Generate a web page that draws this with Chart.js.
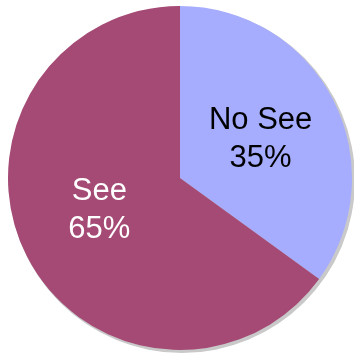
<!DOCTYPE html>
<html>
<head>
<meta charset="utf-8">
<script src="https://cdn.jsdelivr.net/npm/chart.js@4/dist/chart.umd.min.js"></script>
<style>
  html, body { margin: 0; padding: 0; background: #ffffff; }
  #wrap { width: 354px; height: 354px; }
</style>
</head>
<body>
<div id="wrap"><canvas id="pie" width="354" height="354"></canvas></div>
<script>
// Share of respondents
const categories = ["No See", "See"];
const shares = [35, 65];
const sliceColors = ["#A6ADFE", "#A44A75"];
const labelColors = ["#000000", "#ffffff"];

// Soft grey rim behind the pie
const rimPlugin = {
  id: "rim",
  beforeDatasetsDraw(chart) {
    const arc = chart.getDatasetMeta(0).data[0];
    if (!arc) return;
    const { x, y, outerRadius } = arc.getProps(["x", "y", "outerRadius"], true);
    const ctx = chart.ctx;
    ctx.save();
    ctx.beginPath();
    ctx.arc(x + 2, y + 2, outerRadius + 1, 0, Math.PI * 2);
    ctx.fillStyle = "#c9c9c9";
    ctx.fill();
    ctx.restore();
  }
};

// Category name and percentage inside each slice
const sliceLabelPlugin = {
  id: "sliceLabels",
  afterDatasetsDraw(chart, args, opts) {
    const ctx = chart.ctx;
    const meta = chart.getDatasetMeta(0);
    const nudge = opts.nudge || [];
    ctx.save();
    ctx.font = "31px 'Liberation Sans', Arial, sans-serif";
    ctx.textAlign = "center";
    ctx.textBaseline = "alphabetic";
    meta.data.forEach((el, i) => {
      const p = el.tooltipPosition();
      const n = nudge[i] || { dx: 0, dy: 0 };
      const x = p.x + n.dx, y = p.y + n.dy;
      ctx.fillStyle = labelColors[i];
      ctx.fillText(categories[i], x, y - 10);
      ctx.fillText(shares[i] + "%", x, y + 28);
    });
    ctx.restore();
  }
};

new Chart(document.getElementById("pie"), {
  type: "pie",
  data: {
    labels: categories,
    datasets: [{
      data: shares,
      backgroundColor: sliceColors,
      borderWidth: 0
    }]
  },
  options: {
    responsive: false,
    animation: false,
    layout: { padding: { top: 6, bottom: 4, left: 7, right: 1 } },
    plugins: {
      legend: { display: false },
      tooltip: { enabled: false },
      sliceLabels: { nudge: [{ dx: 4, dy: 0 }, { dx: -4, dy: -7 }] }
    }
  },
  plugins: [rimPlugin, sliceLabelPlugin]
});
</script>
</body>
</html>
